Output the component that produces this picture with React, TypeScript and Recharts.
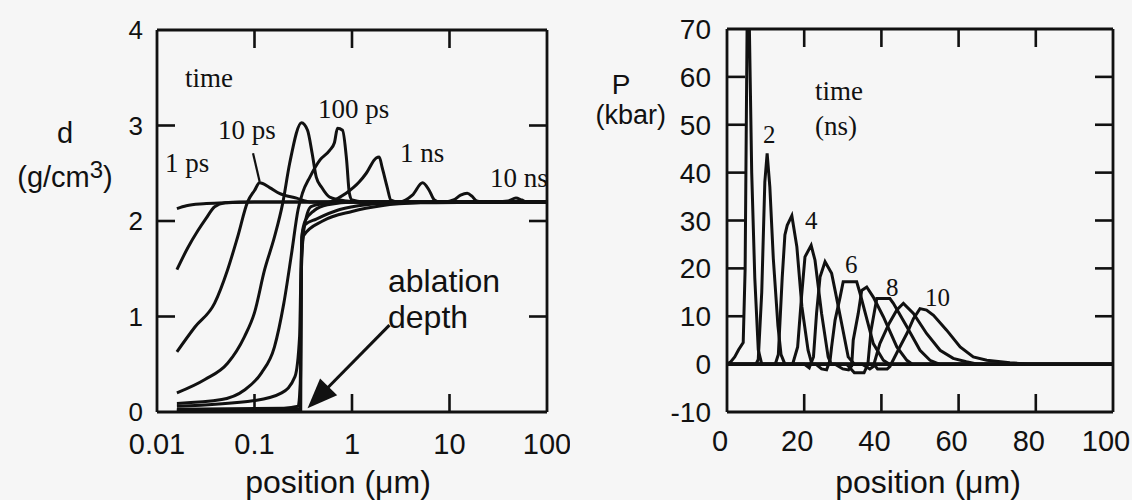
import React from 'react';
import { LineChart, Line, XAxis, YAxis, ReferenceLine, ReferenceDot } from 'recharts';

// left panel: density d (g/cm3) vs position (um), log x, one profile per time step
const dA = [[0.016, 2.13], [0.02, 2.16], [0.03, 2.18], [0.05, 2.19], [0.1, 2.2], [100, 2.2]];
const dB = [[0.016, 1.49], [0.0207, 1.72], [0.0263, 1.9], [0.032, 2.03], [0.039, 2.15], [0.05, 2.19], [0.07, 2.2], [100, 2.2]];
const dC = [[0.016, 0.63], [0.0245, 0.89], [0.039, 1.14], [0.053, 1.49], [0.067, 1.83], [0.085, 2.2], [0.1, 2.32], [0.113, 2.4],
  [0.143, 2.35], [0.18, 2.29], [0.27, 2.24], [0.37, 2.2], [100, 2.2]];
const dD = [[0.016, 0.2], [0.031, 0.34], [0.053, 0.51], [0.079, 0.79], [0.1, 1.04], [0.127, 1.49], [0.16, 1.83], [0.195, 2.19],
  [0.229, 2.6], [0.304, 3.03], [0.35, 2.95], [0.39, 2.71], [0.43, 2.46], [0.49, 2.35], [0.59, 2.25], [0.88, 2.21], [1.2, 2.2], [100, 2.2]];
const dE = [[0.016, 0.09], [0.046, 0.13], [0.079, 0.23], [0.118, 0.41], [0.16, 0.68], [0.2, 1.14], [0.24, 1.66], [0.28, 2.12],
  [0.31, 2.29], [0.37, 2.46], [0.47, 2.64], [0.59, 2.74], [0.66, 2.82], [0.71, 2.97], [0.8, 2.95], [0.88, 2.64], [0.94, 2.29],
  [1.0, 2.22], [1.3, 2.2], [100, 2.2]];
const dF = [[0.016, 0.06], [0.1, 0.12], [0.19, 0.2], [0.26, 0.37], [0.29, 0.79], [0.3, 1.49], [0.32, 1.9], [0.38, 2.15], [0.6, 2.2],
  [0.87, 2.29], [1.19, 2.41], [1.4, 2.5], [1.77, 2.66], [1.9, 2.67], [2.05, 2.55], [2.3, 2.35], [2.5, 2.22], [3, 2.2], [100, 2.2]];
const dG = [[0.016, 0.03], [0.2, 0.04], [0.28, 0.06], [0.295, 0.3], [0.3, 1.2], [0.305, 1.83], [0.33, 2.0], [0.41, 2.11], [0.56, 2.17],
  [1.06, 2.2], [3.06, 2.2], [4.16, 2.27], [5.3, 2.4], [6.2, 2.32], [7, 2.22], [7.9, 2.2], [100, 2.2]];
const dH = [[0.016, 0.02], [0.29, 0.03], [0.298, 0.5], [0.302, 1.6], [0.31, 1.87], [0.33, 1.96], [0.43, 2.02], [0.75, 2.12], [1.4, 2.17],
  [3, 2.19], [9, 2.2], [11, 2.22], [13, 2.27], [15.2, 2.29], [17, 2.26], [19, 2.21], [22, 2.2], [100, 2.2]];
const dI = [[0.016, 0.01], [0.298, 0.02], [0.3, 0.8], [0.303, 1.5], [0.32, 1.85], [0.5, 2.0], [1, 2.1], [2, 2.16], [5, 2.19], [30, 2.2],
  [40, 2.21], [48, 2.24], [55, 2.22], [62, 2.2], [100, 2.2]];

// right panel: pressure P (kbar) vs position (um), one pulse per ns
const p1 = [[0, 0], [1, 0.5], [2, 1.5], [3, 3], [4.2, 4.5], [4.7, 20], [5.2, 70], [5.4, 100], [5.6, 100], [5.8, 70], [6.4, 40],
  [7.2, 18], [8.1, 3], [9, 0], [100, 0]];
const p2 = [[0, 0], [7.5, 0], [8.1, 1], [9, 15], [9.8, 38], [10.4, 44], [11.1, 37], [12, 22], [13.2, 8], [14, 2], [15, 0], [100, 0]];
const p3 = [[0, 0], [12.5, 0], [13.3, 2], [14.3, 18], [15, 27], [15.6, 29], [16.8, 31], [18.1, 24.5], [19.4, 12], [21, 2.9], [22, 0], [100, 0]];
const p4 = [[0, 0], [17, 0], [18.3, 3.6], [19.3, 14], [20.2, 22.4], [21.8, 24.8], [22.8, 21.7], [24.5, 10.6], [26.2, 1.5], [27, 0], [100, 0]];
const p5 = [[0, 0], [20, 0], [21.3, -0.8], [22.4, 1.5], [23.2, 10.6], [24.1, 18.2], [25.4, 21.4], [27.1, 19], [28, 15.4], [29.7, 8.5],
  [31.4, 1.5], [33, 0], [100, 0]];
const p6 = [[0, 0], [23, 0], [24.5, -1], [25.8, -1.2], [26.7, 0.8], [27.1, 3.6], [28, 9.2], [29.3, 14], [30.1, 17.2], [33.6, 17.2],
  [34.5, 14.7], [36.2, 9.5], [37.9, 4.3], [40.5, 0.8], [42, 0], [100, 0]];
const p7 = [[0, 0], [28, 0], [30, -1], [31.5, -1.2], [32.3, -0.4], [32.7, 5], [34, 10.6], [34.9, 15.4], [36.2, 16.1], [37.9, 14],
  [40.5, 9.9], [44, 3.6], [46.6, 0.8], [48, 0], [100, 0]];
const p8 = [[0, 0], [31, 0], [33, -1.8], [35.5, -1.8], [36.5, 0], [37.3, 7], [38.8, 13.7], [42.2, 13.7], [43.1, 12.7], [46.6, 7.8],
  [50, 2.9], [52.6, 0.8], [55, 0], [100, 0]];
const p9 = [[0, 0], [35, 0], [37, -1], [37.9, -0.5], [39.6, 4.3], [42, 8.5], [44, 11.3], [45.7, 12.7], [48.3, 10.6], [51.7, 6.4],
  [55.2, 2.9], [58.6, 1.2], [62, 0.5], [65, 0], [100, 0]];
const p10 = [[0, 0], [38, 0], [39, -1], [41.5, -1], [42.2, -0.5], [44.4, 3], [46.6, 6.4], [48.3, 9.5], [50, 11.6], [51.7, 11.3],
  [53.5, 10.2], [56.9, 7.1], [60.4, 3.6], [63.8, 1.5], [67.3, 0.8], [73.3, 0.3], [78, 0], [100, 0]];

const logTicks = [0.01, 0.1, 1, 10, 100];
const logInner = [0.1, 1, 10];
const dTicks = [0, 1, 2, 3, 4];
const dInner = [1, 2, 3];
const posTicks = [0, 20, 40, 60, 80, 100];
const posInner = [20, 40, 60, 80];
const pTicks = [-10, 0, 10, 20, 30, 40, 50, 60, 70];
const pInner = [10, 20, 30, 40, 50, 60];

const densityCurves = [dA, dB, dC, dD, dE, dF, dG, dH, dI];
const pressureCurves = [p1, p2, p3, p4, p5, p6, p7, p8, p9, p10];

const pts = (a: number[][]) => a.map(([x, y]) => ({ x, y }));

const INK = '#111';
const SANS = '"Liberation Sans", Arial, Helvetica, sans-serif';
const SERIF = '"Liberation Serif", "Times New Roman", serif';

type TickOpts = { inner: number[]; len?: number; label?: boolean; size?: number; dx?: number; dy?: number };

// draws the inward tick mark and (optionally) the label; axes use tickSize 0 so x/y sit on the frame
function makeTick(side: 'bottom' | 'top' | 'left' | 'right', o: TickOpts) {
  const len = o.len ?? 18;
  const dx = o.dx ?? 0;
  const dy = o.dy ?? 0;
  return (props: any) => {
    const { x, y, payload } = props;
    const v = payload.value;
    const on = o.inner.includes(v);
    let ln: any = null;
    let tx: any = null;
    if (side === 'bottom') {
      if (on) ln = <line x1={x} x2={x} y1={y} y2={y - len} />;
      if (o.label) tx = <text x={x + dx} y={y + dy} textAnchor="middle">{String(v)}</text>;
    } else if (side === 'top') {
      if (on) ln = <line x1={x} x2={x} y1={y} y2={y + len} />;
    } else if (side === 'left') {
      if (on) ln = <line x1={x} x2={x + len} y1={y} y2={y} />;
      if (o.label) tx = <text x={x + dx} y={y + dy} textAnchor="end">{String(v)}</text>;
    } else {
      if (on) ln = <line x1={x} x2={x - len} y1={y} y2={y} />;
    }
    return (
      <g>
        {ln && <g stroke={INK} strokeWidth={2.6}>{ln}</g>}
        {tx && <g fill={INK} fontFamily={SANS} fontSize={o.size ?? 28}>{tx}</g>}
      </g>
    );
  };
}

const frame = { stroke: INK, strokeWidth: 2.8 };

// filled arrow head pointing down-left, tip on (cx, cy)
const arrowHead = (p: any) => {
  const { cx, cy } = p;
  const ux = 0.703, uy = -0.711;
  const L = 30, W = 12;
  const bx = cx + ux * L, by = cy + uy * L;
  const px = -uy, py = ux;
  return (
    <polygon
      points={`${cx},${cy} ${bx + px * W},${by + py * W} ${bx - px * W},${by - py * W}`}
      fill={INK}
    />
  );
};

function DensityChart() {
  return (
    <LineChart width={570} height={500} margin={{ top: 28, right: 21, bottom: 48, left: 97 }}>
      <XAxis dataKey="x" type="number" scale="log" domain={[0.01, 100]} ticks={logTicks} allowDataOverflow interval={0}
        height={40} tickSize={0} tickMargin={0} axisLine={frame} tickLine={false}
        tick={makeTick('bottom', { inner: logInner, label: true, size: 29, dy: 42 })} />
      <XAxis xAxisId="top" orientation="top" dataKey="x" type="number" scale="log" domain={[0.01, 100]} ticks={logTicks}
        allowDataOverflow interval={0} height={2} tickSize={0} tickMargin={0} axisLine={frame} tickLine={false}
        tick={makeTick('top', { inner: logInner })} />
      <YAxis type="number" domain={[0, 4]} ticks={dTicks} allowDataOverflow interval={0} width={60} tickSize={0} tickMargin={0}
        axisLine={frame} tickLine={false} tick={makeTick('left', { inner: dInner, label: true, size: 26, dx: -14, dy: 9 })} />
      <YAxis yAxisId="right" orientation="right" type="number" domain={[0, 4]} ticks={dTicks} allowDataOverflow interval={0}
        width={2} tickSize={0} tickMargin={0} axisLine={frame} tickLine={false} tick={makeTick('right', { inner: dInner })} />
      {densityCurves.map((c, i) => (
        <Line key={'d' + i} data={pts(c)} dataKey="y" type="monotoneX" dot={false} stroke={INK} strokeWidth={3}
          isAnimationActive={false} />
      ))}
      <ReferenceLine segment={[{ x: 0.0966, y: 2.71 }, { x: 0.113, y: 2.41 }]} stroke={INK} strokeWidth={2.2} />
      <ReferenceLine segment={[{ x: 2.42, y: 0.91 }, { x: 0.4, y: 0.1 }]} stroke={INK} strokeWidth={3} />
      <ReferenceDot x={0.35} y={0.04} r={1} shape={arrowHead} />
    </LineChart>
  );
}

function PressureChart() {
  return (
    <LineChart width={562} height={500} margin={{ top: 27, right: 17, bottom: 48, left: 97 }}>
      <XAxis dataKey="x" type="number" domain={[0, 100]} ticks={posTicks} allowDataOverflow interval={0}
        height={40} tickSize={0} tickMargin={0} axisLine={frame} tickLine={false}
        tick={makeTick('bottom', { inner: posInner, label: true, size: 29, dx: -7, dy: 39 })} />
      <XAxis xAxisId="top" orientation="top" dataKey="x" type="number" domain={[0, 100]} ticks={posTicks} allowDataOverflow
        interval={0} height={2} tickSize={0} tickMargin={0} axisLine={frame} tickLine={false}
        tick={makeTick('top', { inner: posInner })} />
      <YAxis type="number" domain={[-10, 70]} ticks={pTicks} allowDataOverflow interval={0} width={60} tickSize={0} tickMargin={0}
        axisLine={frame} tickLine={false} tick={makeTick('left', { inner: pInner, label: true, size: 28, dx: -16, dy: 10 })} />
      <YAxis yAxisId="right" orientation="right" type="number" domain={[-10, 70]} ticks={pTicks} allowDataOverflow interval={0}
        width={2} tickSize={0} tickMargin={0} axisLine={frame} tickLine={false} tick={makeTick('right', { inner: pInner })} />
      {pressureCurves.map((c, i) => (
        <Line key={'p' + i} data={pts(c)} dataKey="y" type="linear" dot={false} stroke={INK} strokeWidth={3}
          isAnimationActive={false} />
      ))}
    </LineChart>
  );
}

export default function App() {
  return (
    <div style={{ position: 'absolute', left: 0, top: 0, width: 1132, height: 500, background: '#f6f6f6', overflow: 'hidden' }}>
      <div style={{ position: 'absolute', left: 0, top: 0 }}>
        <DensityChart />
      </div>
      <div style={{ position: 'absolute', left: 570, top: 0 }}>
        <PressureChart />
      </div>
      <svg width={1132} height={500} style={{ position: 'absolute', left: 0, top: 0, pointerEvents: 'none' }}>
        <g fill={INK} fontFamily={SANS}>
          <text x={65} y={143} fontSize={29} textAnchor="middle">d</text>
          <text x={65} y={187} fontSize={29} textAnchor="middle">
            (g/cm<tspan dy={-9} fontSize={24}>3</tspan><tspan dy={9}>)</tspan>
          </text>
          <text x={338} y={493} fontSize={32} textAnchor="middle">position (μm)</text>
          <text x={388} y={292} fontSize={32}>ablation</text>
          <text x={388} y={328} fontSize={32}>depth</text>
          <text x={621} y={94} fontSize={28} textAnchor="middle">P</text>
          <text x={666} y={124} fontSize={27} textAnchor="end">(kbar)</text>
          <text x={928} y={493} fontSize={32} textAnchor="middle">position (μm)</text>
        </g>
        <g fill={INK} fontFamily={SERIF} fontSize={27}>
          <text x={185} y={87}>time</text>
          <text x={165} y={172}>1 ps</text>
          <text x={218} y={139}>10 ps</text>
          <text x={318} y={118}>100 ps</text>
          <text x={400} y={162}>1 ns</text>
          <text x={490} y={187}>10 ns</text>
          <text x={815} y={100}>time</text>
          <text x={815} y={135}>(ns)</text>
        </g>
        <g fill={INK} fontFamily={SERIF} fontSize={25}>
          <text x={763} y={143}>2</text>
          <text x={805} y={229}>4</text>
          <text x={845} y={273}>6</text>
          <text x={886} y={296}>8</text>
          <text x={925} y={306}>10</text>
        </g>
      </svg>
    </div>
  );
}
